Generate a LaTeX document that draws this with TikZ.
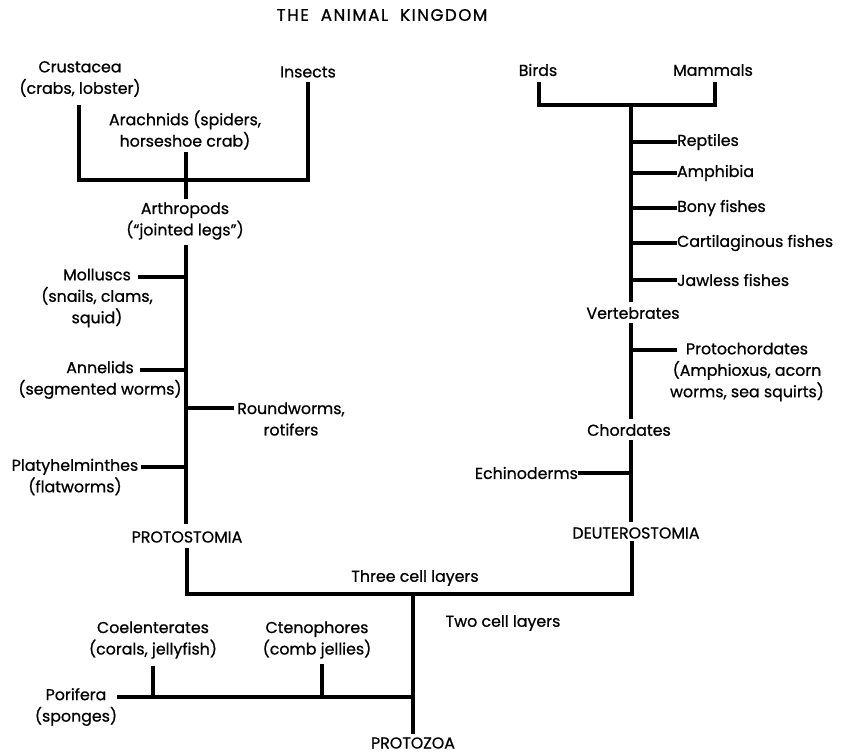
\documentclass[tikz,border=0pt]{standalone}
\usepackage{fontspec}
\setmainfont{Poppins}
\newfontfamily\taxonfont{Poppins}[FakeBold=0.8]
\usetikzlibrary{positioning}

\def\labelfontsize{\taxonfont\fontsize{9}{12.2}\selectfont}
\def\titlefontsize{\taxonfont\fontsize{9.5}{11}\selectfont\addfontfeature{LetterSpace=9}}

\tikzset{
  taxon/.style={align=center, inner sep=1pt, font=\labelfontsize},
  branch/.style={line width=2pt, line cap=rect}
}

\begin{document}
\begin{tikzpicture}[x=0.2mm, y=-0.2mm]
\useasboundingbox (0,0) rectangle (849,752);

\node [taxon, font=\titlefontsize] (title) at (382,15) {THE\ \ ANIMAL\ \ KINGDOM};

\begin{scope} % ARTHROPODS
\node [taxon] (crustacea) at (80,79) {Crustacea\\(crabs, lobster)};
\node [taxon] (insects) at (308,72) {Insects};
\node [taxon] (arachnids) at (185,130) {Arachnids (spiders,\\horseshoe crab)};
\node [taxon] (arthropods) at (185,221) {Arthropods\\(“jointed legs”)};

\coordinate (crustip) at (79,107);
\coordinate (insectip) at (308,84);
\coordinate (arachtip) at (186,154);
\coordinate (arthjoin) at (186,180);
\coordinate (arthstem) at (186,197);
\draw [branch] (crustip) |- (arthjoin) -| (insectip);
\draw [branch] (arachtip) -- (arthstem);
\end{scope}

\begin{scope} % PROTOSTOMIA
\coordinate (prototop) at (186,247);
\coordinate (protobot) at (186,522);
\draw [branch] (prototop) -- (protobot);

\node [taxon] (molluscs) at (97,298) {Molluscs\\(snails, clams,\\squid)};
\node [taxon] (annelids) at (100,380) {Annelids\\(segmented worms)};
\node [taxon] (roundworms) at (291,419) {Roundworms,\\rotifers};
\node [taxon] (platy) at (75,477) {Platyhelminthes\\(flatworms)};
\node [taxon] (protostomia) at (187,537) {PROTOSTOMIA};

\coordinate (mollustip) at (140,277);
\coordinate (annetip) at (142,370);
\coordinate (roundtip) at (232,408);
\coordinate (platytip) at (143,467);
\draw [branch] (mollustip) -- (mollustip -| prototop);
\draw [branch] (annetip) -- (annetip -| prototop);
\draw [branch] (roundtip -| prototop) -- (roundtip);
\draw [branch] (platytip) -- (platytip -| prototop);
\end{scope}

\begin{scope} % VERTEBRATES
\node [taxon] (birds) at (538,70) {Birds};
\node [taxon] (mammals) at (713,70) {Mammals};
\coordinate (birdtip) at (539,84);
\coordinate (mammtip) at (715,84);
\coordinate (vertjoin) at (631,105);
\coordinate (vertbot) at (631,300);
\draw [branch] (birdtip) |- (vertjoin) -| (mammtip);
\draw [branch] (vertjoin) -- (vertbot);

\foreach \y/\txt [count=\i] in {142/Reptiles, 173/Amphibia, 208/Bony fishes,
    243/Cartilaginous fishes, 280/Jawless fishes} {
  \node [taxon, anchor=west] (fish\i) at (675,\y) {\txt};
  \draw [branch] (vertjoin |- fish\i.west) -- (fish\i.west);
}
\node [taxon] (vertebrates) at (633,313) {Vertebrates};
\end{scope}

\begin{scope} % DEUTEROSTOMIA
\coordinate (chordtop) at (631,325);
\coordinate (chordbot) at (631,417);
\draw [branch] (chordtop) -- (chordbot);
\node [taxon] (protochord) at (747,372) {Protochordates\\(Amphioxus, acorn\\worms, sea squirts)};
\coordinate (prototip) at (675,350);
\draw [branch] (prototip -| chordtop) -- (prototip);
\node [taxon] (chordates) at (629,430) {Chordates};

\coordinate (deuttop) at (631,442);
\coordinate (deutbot) at (631,520);
\draw [branch] (deuttop) -- (deutbot);
\node [taxon, anchor=east] (echino) at (580,473) {Echinoderms};
\draw [branch] (echino.east) -- (echino.east -| deuttop);
\node [taxon] (deuterostomia) at (636,533) {DEUTEROSTOMIA};
\end{scope}

\begin{scope} % CELL LAYERS
\coordinate (protoleg) at (187,550);
\coordinate (deutleg) at (632,543);
\coordinate (threejoin) at (413,594);
\coordinate (protozoatop) at (413,732);
\draw [branch] (protoleg) |- (threejoin) -| (deutleg);
\draw [branch] (threejoin) -- (protozoatop);
\node [taxon] (three) at (415,578) {Three cell layers};
\node [taxon] (two) at (503,623) {Two cell layers};
\node [taxon] (protozoa) at (413,743) {PROTOZOA};

\node [taxon] (coelent) at (153,640) {Coelenterates\\(corals, jellyfish)};
\node [taxon] (cteno) at (317,640) {Ctenophores\\(comb jellies)};
\node [taxon] (porifera) at (76,707) {Porifera\\(sponges)};
\coordinate (poriftip) at (119,697);
\coordinate (coeltip) at (153,668);
\coordinate (ctentip) at (322,666);
\draw [branch] (poriftip) -- (poriftip -| threejoin);
\draw [branch] (coeltip) -- (coeltip |- poriftip);
\draw [branch] (ctentip) -- (ctentip |- poriftip);
\end{scope}

\end{tikzpicture}
\end{document}
